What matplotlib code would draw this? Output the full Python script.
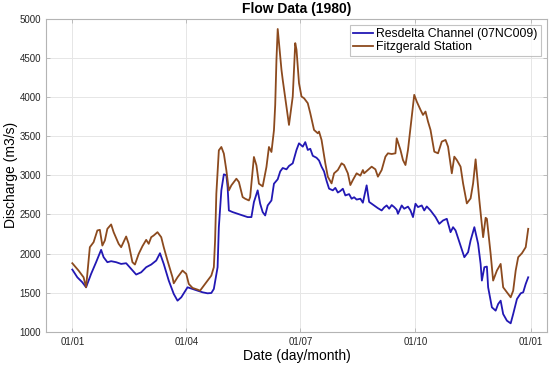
import numpy as np
import pandas as pd
import matplotlib
matplotlib.use('Agg')
import matplotlib.pyplot as plt
import matplotlib.dates as mdates

# days after 1 Jan 1980, discharge in m3/s
resdelta_day = [0, 4, 8, 11, 15, 19, 23, 25, 28, 31, 35, 39, 43, 47, 51, 55, 59, 63, 67, 70,
                73, 77, 81, 84, 87, 92, 96, 100, 104, 108, 111, 113, 116, 117, 119, 121, 123, 124, 125, 128,
                132, 136, 140, 143, 145, 148, 150, 152, 154, 156, 159, 161, 164, 166, 168, 171, 173, 176, 179, 181,
                184, 186, 188, 190, 192, 195, 197, 199, 201, 203, 205, 208, 210, 212, 214, 216, 218, 221, 223, 225,
                227, 230, 232, 235, 237, 241, 244, 247, 249, 251, 253, 255, 257, 259, 260, 263, 265, 268, 270, 272,
                274, 276, 279, 281, 283, 286, 288, 290, 293, 296, 299, 302, 304, 306, 310, 313, 316, 318, 321, 324,
                326, 327, 329, 331, 332, 335, 338, 340, 342, 344, 347, 350, 352, 355, 358, 360, 362, 364]
resdelta_q = [1795, 1696, 1632, 1568, 1739, 1889, 2047, 1953, 1889, 1902, 1889, 1867, 1876, 1803, 1731, 1760, 1825, 1859, 1910, 2004,
              1867, 1654, 1483, 1397, 1440, 1568, 1547, 1525, 1504, 1491, 1495, 1547, 1825, 2337, 2808, 3013, 3000, 2850, 2551, 2530,
              2508, 2487, 2466, 2466, 2658, 2808, 2637, 2530, 2487, 2615, 2679, 2893, 2950, 3050, 3094, 3077, 3120, 3154, 3325, 3410,
              3367, 3425, 3325, 3340, 3250, 3225, 3190, 3111, 3050, 2930, 2830, 2808, 2840, 2780, 2800, 2829, 2743, 2760, 2701, 2720,
              2690, 2701, 2650, 2872, 2660, 2615, 2580, 2551, 2590, 2615, 2573, 2620, 2594, 2560, 2508, 2615, 2573, 2600, 2551, 2466,
              2637, 2594, 2615, 2551, 2602, 2551, 2508, 2466, 2380, 2423, 2444, 2273, 2337, 2295, 2102, 1953, 2017, 2167, 2337, 2124,
              1867, 1654, 1825, 1833, 1568, 1312, 1269, 1354, 1397, 1226, 1141, 1107, 1226, 1418, 1491, 1504, 1611, 1696]

fitz_day = [0, 5, 9, 11, 14, 17, 20, 22, 24, 26, 28, 31, 33, 37, 39, 43, 45, 48, 50, 53,
            56, 59, 61, 63, 65, 68, 71, 73, 76, 80, 81, 84, 88, 91, 93, 96, 100, 102, 104, 107,
            111, 113, 114, 115, 117, 119, 121, 123, 125, 127, 131, 133, 136, 138, 141, 142, 145, 147, 149, 152,
            155, 157, 159, 161, 162, 163, 164, 167, 168, 171, 173, 176, 178, 179, 181, 183, 185, 188, 190, 193,
            196, 197, 199, 202, 204, 207, 209, 212, 215, 217, 220, 222, 224, 227, 230, 232, 233, 236, 239, 242,
            244, 247, 250, 252, 255, 258, 259, 262, 264, 266, 268, 271, 273, 275, 278, 280, 282, 284, 286, 289,
            292, 295, 298, 300, 303, 305, 307, 310, 312, 315, 318, 320, 322, 325, 328, 330, 331, 334, 336, 339,
            342, 344, 347, 350, 352, 354, 356, 359, 362, 364]
fitz_q = [1876, 1782, 1696, 1568, 2081, 2145, 2295, 2303, 2102, 2167, 2316, 2372, 2273, 2124, 2081, 2218, 2124, 1889, 1859, 1995,
          2094, 2175, 2124, 2209, 2231, 2273, 2209, 2081, 1910, 1696, 1619, 1696, 1782, 1739, 1611, 1560, 1538, 1525, 1568, 1632,
          1718, 1825, 2167, 2765, 3320, 3363, 3278, 3064, 2808, 2872, 2957, 2915, 2722, 2701, 2679, 2722, 3235, 3128, 2893, 2859,
          3107, 3363, 3299, 3577, 3900, 4480, 4872, 4350, 4222, 3880, 3645, 4008, 4692, 4607, 4179, 4008, 3987, 3923, 3795, 3581,
          3538, 3560, 3453, 3154, 2983, 2897, 3026, 3068, 3154, 3132, 3026, 2876, 2940, 3026, 2996, 3068, 3026, 3068, 3111, 3077,
          2983, 3068, 3239, 3282, 3273, 3282, 3474, 3325, 3196, 3132, 3325, 3752, 4030, 3944, 3838, 3773, 3816, 3688, 3581, 3303,
          3282, 3432, 3453, 3367, 3026, 3239, 3196, 3111, 2897, 2641, 2705, 2897, 3205, 2679, 2209, 2457, 2444, 1996, 1654, 1782,
          1867, 1568, 1504, 1440, 1525, 1782, 1953, 2004, 2081, 2316]

start = pd.Timestamp('1980-01-01')
res_dates = start + pd.to_timedelta(resdelta_day, unit='D')
fitz_dates = start + pd.to_timedelta(fitz_day, unit='D')

plt.rcParams['font.family'] = ['Liberation Sans', 'DejaVu Sans']

fig = plt.figure(figsize=(5.5, 3.67), dpi=100)
ax = fig.add_axes([46/550, 1 - 331.7/367, 501/550, (331.7 - 19)/367])

ax.plot(res_dates, resdelta_q, color='#2218b4', lw=1.3, label='Resdelta Channel (07NC009)')
ax.plot(fitz_dates, fitz_q, color='#8c4a1e', lw=1.3, label='Fitzgerald Station')

ax.set_xlim(pd.Timestamp('1979-12-11'), pd.Timestamp('1981-01-14'))
ax.set_ylim(1000, 5000)
ax.set_yticks(np.arange(1000, 5001, 500))
ax.set_xticks(pd.to_datetime(['1980-01-01', '1980-04-01', '1980-07-01', '1980-10-01', '1981-01-01']))
ax.xaxis.set_major_formatter(mdates.DateFormatter('%d/%m'))

ax.grid(True, color='#e6e6e6', lw=0.7)
ax.set_axisbelow(True)
for s in ax.spines.values():
    s.set_color('#b4b4b4')
    s.set_linewidth(0.8)
ax.tick_params(direction='in', length=3, width=0.6, color='#b4b4b4', labelsize=7,
               labelcolor='#262626', top=True, right=True)

ax.set_title('Flow Data (1980)', fontsize=10, fontweight='bold', pad=4)
ax.set_xlabel('Date (day/month)', fontsize=10, labelpad=2)
ax.set_ylabel('Discharge (m3/s)', fontsize=10, labelpad=1)

leg = ax.legend(loc='upper right', fontsize=8.8, frameon=True, fancybox=False,
                borderpad=0.25, handlelength=1.6, handletextpad=0.3, labelspacing=0.1,
                borderaxespad=0.5)
leg.get_frame().set_edgecolor('#b4b4b4')
leg.get_frame().set_linewidth(0.8)

plt.savefig('out.png', dpi=100)
